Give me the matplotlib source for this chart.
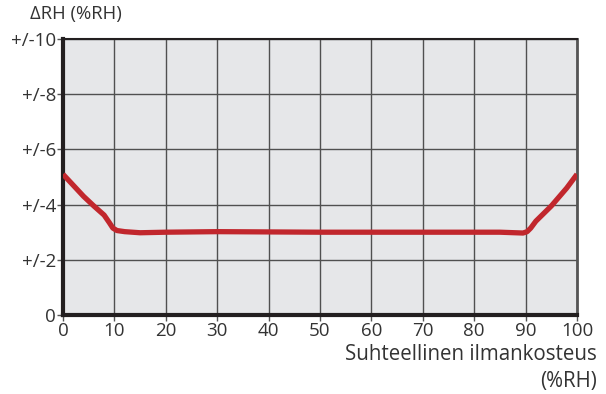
import numpy as np
import matplotlib.pyplot as plt

plt.rcParams['font.family'] = ['Open Sans', 'DejaVu Sans']

# relative humidity (%RH) vs accuracy (+/- %RH)
rh = [0, 2, 4, 6, 8, 9, 9.7, 10.5, 12, 15, 20, 30, 40, 50, 60, 70, 80, 85, 88, 89.5, 90.3, 91, 92, 95, 98, 100]
delta_rh = [5.1, 4.7, 4.3, 3.95, 3.62, 3.35, 3.15, 3.06, 3.02, 2.98, 3.0, 3.02, 3.01, 3.0, 3.0, 3.0, 3.0, 3.0, 2.98, 2.97, 3.02, 3.15, 3.4, 3.95, 4.6, 5.1]

x_ticks = [0, 10, 20, 30, 40, 50, 60, 70, 80, 90, 100]
y_ticks = [0, 2, 4, 6, 8, 10]
y_labels = ['0', '+/-2', '+/-4', '+/-6', '+/-8', '+/-10']

fig = plt.figure(figsize=(6.06, 3.94), dpi=100)
ax = fig.add_axes([63 / 606, 1 - 315 / 394, 514 / 606, 276 / 394])
ax.set_facecolor('#e6e7e9')

ax.plot(rh, delta_rh, color='#c1272d', lw=3.8, solid_capstyle='butt', solid_joinstyle='round', zorder=3)

ax.set_xlim(0, 100)
ax.set_ylim(0, 10)
ax.set_xticks(x_ticks)
ax.set_yticks(y_ticks)
ax.set_yticklabels(y_labels)
ax.grid(True, color='#505050', lw=1.0, zorder=1)
ax.set_axisbelow(True)
ax.tick_params(axis='both', labelsize=13.5, colors='#555555', labelcolor='#333333', length=4, width=1, pad=1)

ax.spines['left'].set_linewidth(3)
ax.spines['left'].set_color('#231f20')
ax.spines['bottom'].set_linewidth(3)
ax.spines['bottom'].set_color('#231f20')
ax.spines['top'].set_linewidth(1.5)
ax.spines['top'].set_color('#231f20')
ax.spines['right'].set_linewidth(2)
ax.spines['right'].set_color('#555555')

fig.text(30 / 606, 1 - 14 / 394, 'ΔRH (%RH)', fontsize=13.3, color='#333333', ha='left', va='center')
fig.text(597 / 606, 1 - 355 / 394, 'Suhteellinen ilmankosteus', fontsize=14.8, color='#333333', ha='right', va='center')
fig.text(597 / 606, 1 - 381 / 394, '(%RH)', fontsize=14.8, color='#333333', ha='right', va='center')

fig.savefig('out.png', dpi=100)
